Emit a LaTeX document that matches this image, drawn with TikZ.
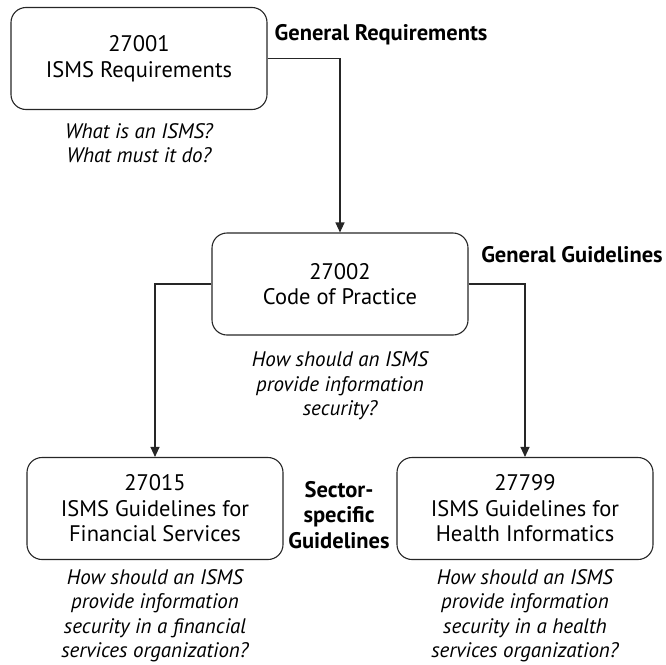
\documentclass[tikz,border=0pt]{standalone}
\usepackage{fontspec}
\setmainfont{PT Sans}
\usetikzlibrary{arrows.meta,positioning}

\begin{document}
\begin{tikzpicture}[x=1pt,y=-1pt]
      \tikzstyle{std}=[draw=black!85,line width=1.1pt,rounded corners=15pt,minimum width=256pt,minimum height=102pt,align=center,font=\fontsize{22.5}{25.5}\selectfont]
      \tikzstyle{note}=[inner sep=0pt,align=center,font=\fontsize{21}{24.5}\selectfont\itshape]
      \tikzstyle{level}=[inner sep=0pt,align=center,font=\fontsize{22.5}{25.5}\selectfont\bfseries]
      \tikzstyle{link}=[draw=black!85,line width=1.1pt,-{Triangle[length=10pt,width=9pt]}]

      \useasboundingbox (0,0) rectangle (666,664);

      \begin{scope}
        \node[std](req) at (139,58.5){27001\\ISMS Requirements};
        \node[note](reqq)[below=13pt of req]{What is an ISMS?\\What must it do?};
        \node[level](genreq) at (381,35){General Requirements};

        \node[std](cop) at (340,284){27002\\Code of Practice};
        \node[note](copq)[below=16pt of cop]{How should an ISMS\\provide information\\security?};
        \node[level](genguide) at (572,255){General Guidelines};

        \node[std](fin) at (155,508.5){27015\\ISMS Guidelines for\\Financial Services};
        \node[note](finq)[below=9pt of fin]{How should an ISMS\\provide information\\security in a financial\\services organization?};
        \node[level](sector) at (339,515){Sector-\\specific\\Guidelines};

        \node[std](hlt) at (525,508.5){27799\\ISMS Guidelines for\\Health Informatics};
        \node[note](hltq)[below=9pt of hlt]{How should an ISMS\\provide information\\security in a health\\services organization?};

        \draw[link] (req) -| (cop);
        \draw[link] (cop) -| (fin);
        \draw[link] (cop) -| (hlt);
      \end{scope}
\end{tikzpicture}
\end{document}
